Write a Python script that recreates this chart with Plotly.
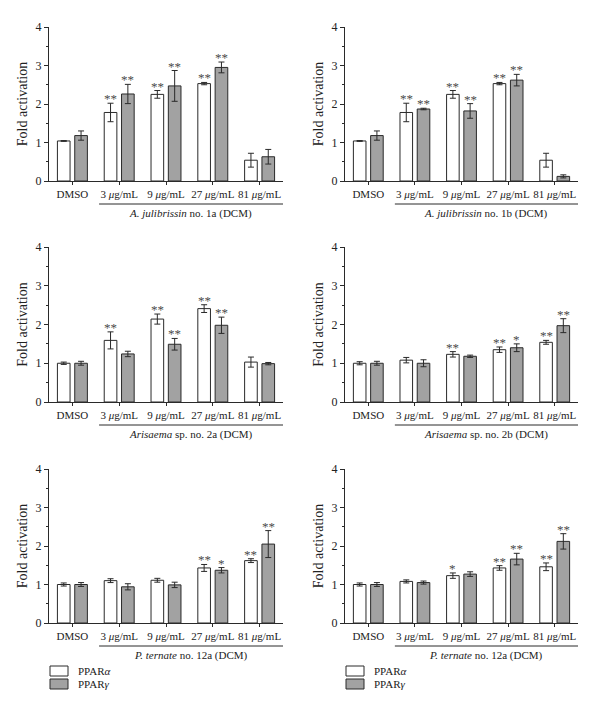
import plotly.graph_objects as go

W, H = 600, 711

tick_labels = ["DMSO", "3 <i>μ</i>g/mL", "9 <i>μ</i>g/mL", "27 <i>μ</i>g/mL", "81 <i>μ</i>g/mL"]
y_ticks = [0, 1, 2, 3, 4]
series_names = ["PPAR<i>α</i>", "PPAR<i>γ</i>"]

titles = [
    "<i>A. julibrissin</i> no. 1a (DCM)",
    "<i>A. julibrissin</i> no. 1b (DCM)",
    "<i>Arisaema</i> sp. no. 2a (DCM)",
    "<i>Arisaema</i> sp. no. 2b (DCM)",
    "<i>P. ternate</i> no. 12a (DCM)",
    "<i>P. ternate</i> no. 12a (DCM)",
]

# Panel 1a
p1_alpha = [1.04, 1.78, 2.25, 2.53, 0.54]
p1_alpha_err = [0.01, 0.24, 0.10, 0.03, 0.18]
p1_gamma = [1.18, 2.26, 2.47, 2.95, 0.63]
p1_gamma_err = [0.12, 0.25, 0.40, 0.14, 0.19]
p1_alpha_sig = ["", "**", "**", "**", ""]
p1_gamma_sig = ["", "**", "**", "**", ""]

# Panel 1b
p2_alpha = [1.04, 1.78, 2.25, 2.53, 0.54]
p2_alpha_err = [0.01, 0.24, 0.10, 0.03, 0.18]
p2_gamma = [1.18, 1.87, 1.82, 2.62, 0.12]
p2_gamma_err = [0.12, 0.02, 0.19, 0.15, 0.04]
p2_alpha_sig = ["", "**", "**", "**", ""]
p2_gamma_sig = ["", "**", "**", "**", ""]

# Panel 2a
p3_alpha = [1.00, 1.59, 2.14, 2.41, 1.03]
p3_alpha_err = [0.03, 0.22, 0.13, 0.10, 0.13]
p3_gamma = [1.00, 1.24, 1.49, 1.98, 0.99]
p3_gamma_err = [0.05, 0.07, 0.15, 0.21, 0.03]
p3_alpha_sig = ["", "**", "**", "**", ""]
p3_gamma_sig = ["", "", "**", "**", ""]

# Panel 2b
p4_alpha = [1.00, 1.08, 1.23, 1.35, 1.54]
p4_alpha_err = [0.04, 0.07, 0.07, 0.07, 0.05]
p4_gamma = [1.00, 1.00, 1.18, 1.40, 1.97]
p4_gamma_err = [0.05, 0.09, 0.03, 0.10, 0.18]
p4_alpha_sig = ["", "", "**", "**", "**"]
p4_gamma_sig = ["", "", "", "*", "**"]

# Panel 12a (left)
p5_alpha = [1.00, 1.10, 1.11, 1.43, 1.62]
p5_alpha_err = [0.04, 0.05, 0.05, 0.09, 0.05]
p5_gamma = [1.00, 0.94, 0.99, 1.37, 2.05]
p5_gamma_err = [0.05, 0.08, 0.07, 0.07, 0.35]
p5_alpha_sig = ["", "", "", "**", "**"]
p5_gamma_sig = ["", "", "", "*", "**"]

# Panel 12a (right)
p6_alpha = [1.00, 1.08, 1.23, 1.43, 1.46]
p6_alpha_err = [0.04, 0.04, 0.07, 0.06, 0.10]
p6_gamma = [1.00, 1.05, 1.27, 1.66, 2.12]
p6_gamma_err = [0.05, 0.04, 0.06, 0.15, 0.20]
p6_alpha_sig = ["", "", "*", "**", "**"]
p6_gamma_sig = ["", "", "", "**", "**"]

panels = [
    (p1_alpha, p1_alpha_err, p1_gamma, p1_gamma_err, p1_alpha_sig, p1_gamma_sig),
    (p2_alpha, p2_alpha_err, p2_gamma, p2_gamma_err, p2_alpha_sig, p2_gamma_sig),
    (p3_alpha, p3_alpha_err, p3_gamma, p3_gamma_err, p3_alpha_sig, p3_gamma_sig),
    (p4_alpha, p4_alpha_err, p4_gamma, p4_gamma_err, p4_alpha_sig, p4_gamma_sig),
    (p5_alpha, p5_alpha_err, p5_gamma, p5_gamma_err, p5_alpha_sig, p5_gamma_sig),
    (p6_alpha, p6_alpha_err, p6_gamma, p6_gamma_err, p6_alpha_sig, p6_gamma_sig),
]

# layout geometry (pixels)
col_x = [(49, 283), (345, 578)]
row_y = [(27, 181), (247, 402), (469, 623)]

FONT = "Liberation Serif, Times New Roman, serif"
TXT = "#222222"
STAR = "#4a4a4a"
GRAY = "#a2a2a2"
EDGE = "#2a2a2a"
FILLS = ["white", GRAY]

x_idx = [0, 1, 2, 3, 4]
BW = 0.27
OFF_A, OFF_G = -0.32, 0.05

fig = go.Figure()
layout = dict(
    width=W, height=H,
    margin=dict(l=0, r=0, t=0, b=0, autoexpand=False),
    paper_bgcolor="white", plot_bgcolor="white",
    font=dict(family=FONT, size=11, color=TXT),
    barmode="overlay",
    showlegend=False,
)
annotations = []
shapes = []

for i, (a, ae, g, ge, asig, gsig) in enumerate(panels):
    r, c = divmod(i, 2)
    n = i + 1
    xa = "x" if n == 1 else f"x{n}"
    ya = "y" if n == 1 else f"y{n}"
    x0, x1 = col_x[c]
    yt, yb = row_y[r]
    fig.add_trace(go.Bar(
        x=x_idx, y=a, width=BW, offset=OFF_A,
        marker=dict(color=FILLS[0], line=dict(color=EDGE, width=1)),
        error_y=dict(type="data", array=ae, color=EDGE, thickness=1, width=3),
        name=series_names[0], xaxis=xa, yaxis=ya,
    ))
    fig.add_trace(go.Bar(
        x=x_idx, y=g, width=BW, offset=OFF_G,
        marker=dict(color=FILLS[1], line=dict(color=EDGE, width=1)),
        error_y=dict(type="data", array=ge, color=EDGE, thickness=1, width=3),
        name=series_names[1], xaxis=xa, yaxis=ya,
    ))
    layout["xaxis" if n == 1 else f"xaxis{n}"] = dict(
        domain=[x0 / W, x1 / W], anchor=ya, range=[-0.5, 4.5],
        tickmode="array", tickvals=x_idx, ticktext=tick_labels,
        showline=True, linecolor=EDGE, linewidth=1,
        ticks="outside", ticklen=3, tickcolor=EDGE,
        showgrid=False, zeroline=False, fixedrange=True, automargin=False,
        tickfont=dict(family=FONT, size=11, color=TXT),
    )
    layout["yaxis" if n == 1 else f"yaxis{n}"] = dict(
        domain=[1 - yb / H, 1 - yt / H], anchor=xa, range=[0, 4],
        tickmode="array", tickvals=y_ticks,
        showline=True, linecolor=EDGE, linewidth=1,
        ticks="outside", ticklen=4, tickcolor=EDGE,
        minor=dict(tickvals=[0.5, 1.5, 2.5, 3.5], ticks="outside", ticklen=2, tickcolor=EDGE),
        showgrid=False, zeroline=False, fixedrange=True, automargin=False,
        tickfont=dict(family=FONT, size=12, color=TXT),
        title=dict(text="Fold activation", font=dict(family=FONT, size=14, color=TXT), standoff=4),
    )
    ph = yb - yt
    yd = f"{ya} domain" if ya != "y" else "y domain"
    # bracket line under the extract doses
    shapes.append(dict(type="line", xref=xa, yref=yd, x0=0.57, x1=4.5,
                       y0=-23 / ph, y1=-23 / ph, line=dict(color=EDGE, width=1)))
    annotations.append(dict(text=titles[i], xref=xa, yref=yd, x=2.53, y=-32 / ph,
                            showarrow=False, xanchor="center", yanchor="middle",
                            font=dict(family=FONT, size=11, color=TXT)))
    # significance stars
    for j in x_idx:
        if asig[j]:
            annotations.append(dict(text=asig[j], xref=xa, yref=ya, x=j + OFF_A + BW / 2,
                                    y=a[j] + ae[j], showarrow=False, yanchor="bottom",
                                    yshift=-5, font=dict(family=FONT, size=13, color=STAR)))
        if gsig[j]:
            annotations.append(dict(text=gsig[j], xref=xa, yref=ya, x=j + OFF_G + BW / 2,
                                    y=g[j] + ge[j], showarrow=False, yanchor="bottom",
                                    yshift=-5, font=dict(family=FONT, size=13, color=STAR)))

# legends below the bottom row (swatch + label), one per column
leg_rows = [671, 684]
for c, (x0, _) in enumerate(col_x):
    for k in range(2):
        yc = leg_rows[k]
        shapes.append(dict(type="rect", xref="paper", yref="paper",
                           x0=(x0 + 1) / W, x1=(x0 + 19) / W,
                           y0=1 - (yc + 5) / H, y1=1 - (yc - 5) / H,
                           fillcolor=FILLS[k], line=dict(color=EDGE, width=1)))
        annotations.append(dict(text=series_names[k], xref="paper", yref="paper",
                                x=(x0 + 27) / W, y=1 - yc / H, xanchor="left", yanchor="middle",
                                showarrow=False, font=dict(family=FONT, size=11, color=TXT)))

layout["annotations"] = annotations
layout["shapes"] = shapes
fig.update_layout(**layout)
fig.write_html("out.html", config={"displayModeBar": False},
               post_script="document.body.style.margin='0';")
